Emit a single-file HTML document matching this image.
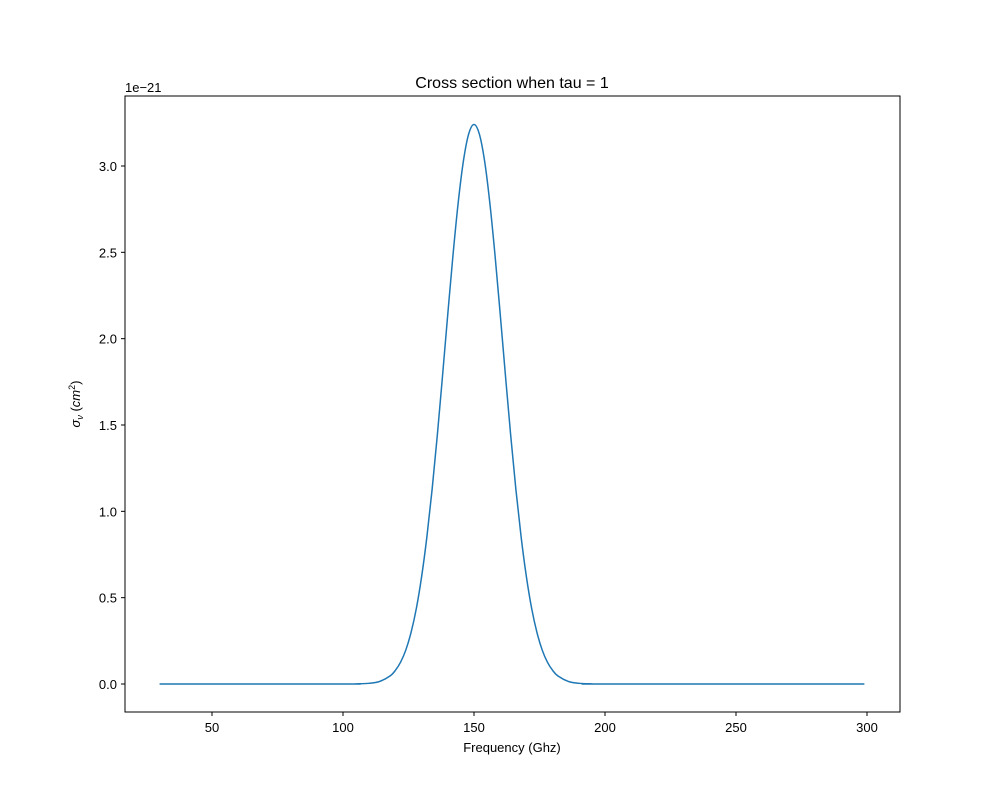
<!DOCTYPE html>
<html><head><meta charset="utf-8"><style>
body{margin:0;background:#fff;}
svg text{font-family:"Liberation Sans","DejaVu Sans",sans-serif;fill:#000;}
</style></head><body>
<svg id="chart" width="1000" height="800">
<rect x="0" y="0" width="1000" height="800" fill="#fff"/>
<g id="ticks"></g>
<path id="curve" fill="none" stroke="#1f77b4" stroke-width="1.5"/>
<rect x="125" y="96" width="775" height="616" fill="none" stroke="#000" stroke-width="1"/>
<text x="512" y="88" font-size="16" text-anchor="middle">Cross section when tau = 1</text>
<text x="512" y="752" font-size="13" text-anchor="middle">Frequency (Ghz)</text>
<text x="125" y="92" font-size="13">1e−21</text>
<text transform="translate(80,404) rotate(-90)" font-size="13" text-anchor="middle"><tspan font-style="italic">σ</tspan><tspan font-style="italic" font-size="9" dy="3">ν</tspan><tspan dy="-3"> (</tspan><tspan font-style="italic">cm</tspan><tspan font-size="9" dy="-5">2</tspan><tspan dy="5">)</tspan></text>
</svg>
<script>
const xs=[30,100,105,110,114,118,120,122,124,126,128,130,132,134,136,138,140,142,144,146,148,150,152,154,156,158,160,162,164,166,168,170,172,174,176,178,180,182,186,190,195,200,299];
const ys=[0,0,0.001,0.004,0.015,0.047,0.079,0.127,0.198,0.300,0.438,0.621,0.850,1.125,1.441,1.787,2.143,2.487,2.792,3.033,3.187,3.24,3.187,3.033,2.792,2.487,2.143,1.787,1.441,1.125,0.850,0.621,0.438,0.300,0.198,0.127,0.079,0.047,0.015,0.004,0.001,0,0];
const xTicks=[50,100,150,200,250,300];
const yTicks=[0,0.5,1.0,1.5,2.0,2.5,3.0];
const yTickLabels=["0.0","0.5","1.0","1.5","2.0","2.5","3.0"];
const X=v=>212+(v-50)*2.62;
const Y=v=>684-v*172.67;
const NS="http://www.w3.org/2000/svg";
const g=document.getElementById('ticks');
function el(t,a){const e=document.createElementNS(NS,t);for(const k in a)e.setAttribute(k,a[k]);g.appendChild(e);return e;}
xTicks.forEach(t=>{
 const l=el('line',{x1:X(t),x2:X(t),y1:712,y2:716,stroke:'#000'});
 
 
 const tx=el('text',{x:X(t),y:732,'font-size':13,'text-anchor':'middle'});tx.textContent=t;
 
 
});
yTicks.forEach((t,i)=>{
 const l=el('line',{x1:121,x2:125,y1:Y(t),y2:Y(t),stroke:'#000'});
 
 
 const tx=el('text',{x:117,y:Y(t)+5,'font-size':13,'text-anchor':'end'});tx.textContent=yTickLabels[i];
 
 
});
// smooth via monotone-ish catmull-rom
let pts=xs.map((x,i)=>[X(x),Y(ys[i])]);
let d='M'+pts[0][0]+','+pts[0][1];
for(let i=0;i<pts.length-1;i++){
 const p0=pts[Math.max(0,i-1)],p1=pts[i],p2=pts[i+1],p3=pts[Math.min(pts.length-1,i+2)];
 const c1=[p1[0]+(p2[0]-p0[0])/6,p1[1]+(p2[1]-p0[1])/6];
 const c2=[p2[0]-(p3[0]-p1[0])/6,p2[1]-(p3[1]-p1[1])/6];
 d+=`C${c1[0]},${c1[1]} ${c2[0]},${c2[1]} ${p2[0]},${p2[1]}`;
}
document.getElementById('curve').setAttribute('d',d);
</script>
</body></html>
